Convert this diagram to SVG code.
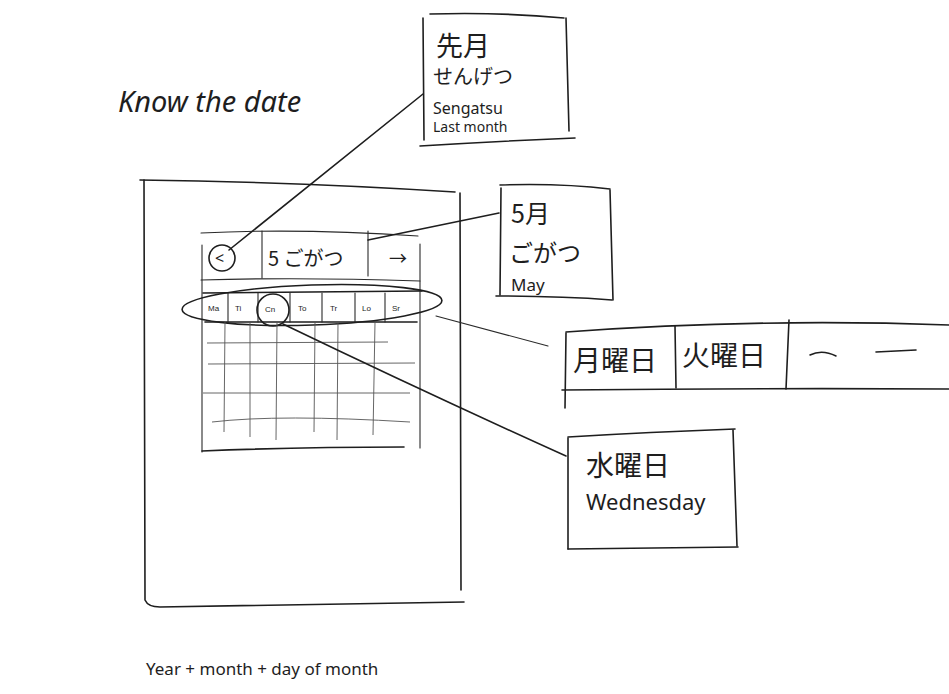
<svg xmlns="http://www.w3.org/2000/svg" width="949" height="694" viewBox="0 0 949 694">
<style>
.ink{fill:none;stroke:#1e1e1e;stroke-width:1.6;stroke-linecap:round;stroke-linejoin:round}
.thin{fill:none;stroke:#2a2a2a;stroke-width:1.1;stroke-linecap:round}
.grid{fill:none;stroke:#555;stroke-width:0.9}
.hand{font-family:"Noto Sans","Noto Sans CJK JP",sans-serif;fill:#1e1e1e}
.jp{font-family:"Noto Sans CJK JP","Noto Sans",sans-serif;fill:#1e1e1e}
.small{font-family:"Liberation Sans",sans-serif;font-size:8px;fill:#1e1e1e}
</style>
<rect width="949" height="694" fill="#ffffff"/>

<g id="title">
<text class="hand" x="118" y="112" font-size="29" font-style="italic">Know the date</text>
</g>

<g id="phone">
<path class="ink" d="M140 180 Q300 182 455 192"/>
<path class="ink" d="M144 180 L145 600 Q148 607 160 607 Q320 605 464 602"/>
<path class="ink" d="M460 193 L461 590"/>
</g>

<g id="calendar">
<path class="thin" d="M201 233 Q300 228 418 236"/>
<path class="thin" d="M262 231 L262 278"/>
<path class="thin" d="M368 231 L368 276"/>
<path class="thin" d="M201 280 Q300 277 420 281"/>
<path class="thin" d="M420 244 L420 448"/>
<path class="thin" d="M202 245 L202 452"/>
<circle class="ink" cx="222" cy="258" r="13"/>
<text class="hand" x="215" y="264" font-size="16">&lt;</text>
<text class="jp" x="268" y="266" font-size="20">5 ごがつ</text>
<text class="hand" x="389" y="265" font-size="18">→</text>
<path class="ink" d="M203 293 L422 291"/>
<path class="ink" d="M205 322 L417 322"/>
<path class="thin" d="M228 293 L228 322 M258 293 L258 322 M290 293 L290 322 M322 293 L322 322 M355 293 L355 322 M385 293 L385 322"/>
<text class="small" x="208" y="311">Ma</text>
<text class="small" x="235" y="311">Ti</text>
<text class="small" x="265" y="312">Cn</text>
<text class="small" x="298" y="311">To</text>
<text class="small" x="330" y="311">Tr</text>
<text class="small" x="362" y="311">Lo</text>
<text class="small" x="392" y="311">Sr</text>
<ellipse class="ink" cx="312" cy="305" rx="130" ry="20" transform="rotate(-2 312 305)"/>
<circle class="ink" cx="273" cy="310" r="16"/>
<path class="grid" d="M225 322 L224 432 M250 322 L250 437 M277 322 L276 440 M315 322 L314 432 M338 322 L337 440 M375 322 L373 435"/>
<path class="grid" d="M207 343 L388 342 M208 364 L415 363 M203 393 L410 393 M212 422 Q280 414 410 422"/>
<path class="ink" d="M202 451 Q300 447 404 447"/>
</g>

<g id="last-month">
<path class="ink" d="M423 18 L424 140"/>
<path class="ink" d="M430 14 Q500 12 564 18"/>
<path class="ink" d="M566 18 L569 131"/>
<path class="ink" d="M420 146 Q500 141 575 138"/>
<text class="jp" x="436" y="56" font-size="27">先月</text>
<text class="jp" x="433" y="84" font-size="20">せんげつ</text>
<text class="hand" x="433" y="114" font-size="16">Sengatsu</text>
<text class="hand" x="433" y="132" font-size="14">Last month</text>
</g>

<g id="may">
<path class="ink" d="M501 188 L500 295"/>
<path class="ink" d="M500 185 Q560 183 610 189"/>
<path class="ink" d="M610 190 L613 300"/>
<path class="ink" d="M496 296 Q560 296 612 300"/>
<text class="jp" x="511" y="223" font-size="25">5月</text>
<text class="jp" x="509" y="262" font-size="24">ごがつ</text>
<text class="hand" x="511" y="291" font-size="17">May</text>
</g>

<g id="weekdays">
<path class="ink" d="M566 332 Q760 318 949 325"/>
<path class="ink" d="M562 390 Q760 388 949 389"/>
<path class="ink" d="M566 333 L565 408"/>
<path class="ink" d="M675 326 L676 388"/>
<path class="ink" d="M789 320 L786 389"/>
<text class="jp" x="573" y="371" font-size="28">月曜日</text>
<text class="jp" x="682" y="366" font-size="28">火曜日</text>
<path class="ink" d="M810 355 Q822 349 836 356"/>
<path class="ink" d="M876 352 L916 350"/>
</g>

<g id="wednesday">
<path class="ink" d="M568 438 L568 549"/>
<path class="ink" d="M568 437 Q650 432 735 429"/>
<path class="ink" d="M733 430 L737 546"/>
<path class="ink" d="M568 549 Q650 548 738 547"/>
<text class="jp" x="586" y="476" font-size="28">水曜日</text>
<text class="hand" x="586" y="510" font-size="22">Wednesday</text>
</g>

<g id="caption">
<text class="hand" x="146" y="675" font-size="17">Year + month + day of month</text>
</g>

<g id="connectors">
<path class="ink" d="M423 94 L229 250"/>
<path class="ink" d="M499 213 L368 240"/>
<path class="thin" d="M436 316 L548 346"/>
<path class="ink" d="M283 324 Q420 390 566 456"/>
</g>
</svg>
